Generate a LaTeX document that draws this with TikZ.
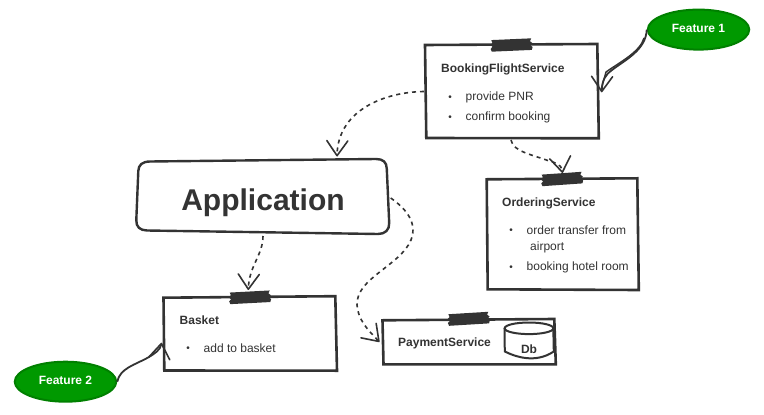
\documentclass[tikz,border=0pt]{standalone}
\usepackage{fontspec}
\setmainfont{Liberation Sans}
\usetikzlibrary{arrows.meta,calc,shapes.geometric}
\definecolor{ink}{HTML}{333333}
\definecolor{leaf}{HTML}{009900}
\definecolor{leafdark}{HTML}{008000}
\tikzset{
  sketch/.style={draw=ink,line width=2.6pt,line join=miter},
  boxarea/.style={inner sep=0pt,outer sep=0pt},
  titletext/.style={text=ink,font=\bfseries\fontsize{12}{14}\selectfont,anchor=west,inner sep=0pt,yshift=-1pt},
  bodytext/.style={text=ink,font=\fontsize{12}{14}\selectfont,anchor=west,inner sep=0pt,yshift=-1pt},
  dot/.style={text=ink,font=\fontsize{10}{12}\selectfont,inner sep=0pt,yshift=-2.6pt},
  feature/.style={fill=leaf,draw=leafdark,line width=2pt,inner sep=0pt,ellipse,
    minimum width=101.5pt,minimum height=40pt,text=white,font=\bfseries\fontsize{12}{14}\selectfont,
    text height=7.4pt,text depth=1.4pt},
  barb/.style={-{Straight Barb[length=15pt,width=21pt,line width=1.6pt,round]}},
  depends/.style={draw=ink,line width=1.6pt,dash pattern=on 4pt off 4pt,barb},
  note/.style={draw=ink,line width=1.8pt,barb},
  tape/.pic={\fill[ink] (-20,-5.8) -- (20,-5.8) -- (18.6,-3) -- (21,-1) -- (19,1) -- (21,3) -- (20,5.8)
     -- (-20,5.8) -- (-21,3) -- (-19,1) -- (-21,-1) -- (-19,-3) -- cycle;}
}
\begin{document}
\begin{tikzpicture}[x=1pt,y=-1pt]
\useasboundingbox (0,0) rectangle (764,415);
\fill[white] (0,0) rectangle (764,415);

% box areas
\node[boxarea,minimum width=172pt,minimum height=93pt] (booking) at (512,91.5) {};
\node[boxarea,minimum width=151pt,minimum height=111pt] (ordering) at (562.5,234.5) {};
\node[boxarea,minimum width=252pt,minimum height=72pt] (application) at (263,197) {};
\node[boxarea,minimum width=173pt,minimum height=74pt] (basket) at (250,333.5) {};
\node[boxarea,minimum width=173pt,minimum height=45pt] (payment) at (469,342) {};

% outlines
\draw[sketch] (425,45) -- (597.3,44) -- (598.8,138.3) -- (426.3,138) -- cycle;
\draw[sketch] (486.7,179.3) -- (637.3,178.3) -- (638.8,290) -- (487.7,289.3) -- cycle;
\draw[sketch] (163.5,297.7) -- (335.3,296.2) -- (337,370.7) -- (164.3,370.5) -- cycle;
\draw[sketch] (382.5,320.3) -- (554.3,319) -- (555.8,364.3) -- (383.5,364.3) -- cycle;
\draw[draw=ink,line width=2.4pt]
  (150,161.5) -- (376,159) .. controls (383,159) and (386.7,162) .. (386.8,169)
  -- (389.2,223) .. controls (389.5,230) and (385,234) .. (378,234)
  -- (147,230.5) .. controls (140,230.3) and (136,227) .. (136.3,220)
  -- (138.3,171) .. controls (138.6,165) and (142,161.6) .. (150,161.5) -- cycle;

% tapes
\pic[rotate=2.5] at (511.5,45) {tape};
\pic[rotate=4] at (562,179) {tape};
\pic[rotate=3] at (250,297.3) {tape};
\pic[rotate=3.5] at (468.7,318.8) {tape};

% cylinder
\draw[draw=ink,fill=white,line width=2pt]
  (504.5,328) -- (504.8,351.5) .. controls (515,356.5) and (535,364) .. (553.8,351.5) -- (553.3,328);
\draw[draw=ink,fill=white,line width=2pt] (529,328.3) ellipse [x radius=24.4,y radius=5.8];
\node[titletext,anchor=center] (db) at (529,347.8) {Db};

% texts
\node[titletext] (bookingtitle) at (441,68) {BookingFlightService};
\node[dot] (b1) at (450,95.5) {•};
\node[bodytext] (b1t) at (465.5,96) {provide PNR};
\node[dot] (b2) at (450,115.5) {•};
\node[bodytext] (b2t) at (465.5,116) {confirm booking};

\node[titletext] (orderingtitle) at (502,202) {OrderingService};
\node[dot] (o1) at (511,229) {•};
\node[bodytext] (o1t) at (526.5,229.4) {order transfer from};
\node[bodytext] (o1u) at (530,246.4) {airport};
\node[dot] (o2) at (511,266) {•};
\node[bodytext] (o2t) at (526.5,266.4) {booking hotel room};

\node[titletext] (baskettitle) at (179.5,319.3) {Basket};
\node[dot] (k1) at (188,347) {•};
\node[bodytext] (k1t) at (203.5,347.4) {add to basket};

\node[titletext] (paymenttitle) at (398,342) {PaymentService};

\node[text=ink,font=\bfseries\fontsize{30}{34}\selectfont,inner sep=0pt] (apptitle) at (263,202.5) {Application};

% features
\node[feature] (feature1) at (698.5,29.6) {Feature 1};
\node[feature] (feature2) at (65.5,381.7) {Feature 2};

% dashed connectors
\draw[depends] (booking.west) ++(-2,0)
  .. controls (385,92) and (338,110) .. ([xshift=74,yshift=4.5]application.north);
\draw[depends] ([xshift=-1,yshift=-2]booking.south)
  .. controls (513,152) and (534,155) .. (549,161)
  .. controls (555,163) and (561,163) .. ([yshift=6]ordering.north);
\draw[depends] ([yshift=-3]application.south)
  .. controls (263,255) and (249,266) .. ([xshift=-1.7,yshift=6.5]basket.north);
\draw[depends] ([xshift=1.7,yshift=-1]application.east)
  .. controls (405,208) and (418,222) .. (411,240)
  .. controls (400,266) and (356,278) .. (357,305)
  .. controls (358,320) and (368,330) .. ([xshift=-3]payment.west);

% feature connectors
\draw[note] (feature1.west)
  .. controls (646,50) and (625,60) .. (612,70)
  .. controls (606,74) and (602,80) .. ([xshift=3.7,yshift=-0.8]booking.east);
\draw[draw=ink,line width=1.4pt] (644,38) .. controls (640,52) and (620,62) .. (606,72) -- (601.5,88);
\draw[note] (feature2.east)
  .. controls (120,368) and (135,365) .. (149,357)
  .. controls (154,354) and (160.5,350) .. ([xshift=-2,yshift=-9.2]basket.west);
\end{tikzpicture}
\end{document}
